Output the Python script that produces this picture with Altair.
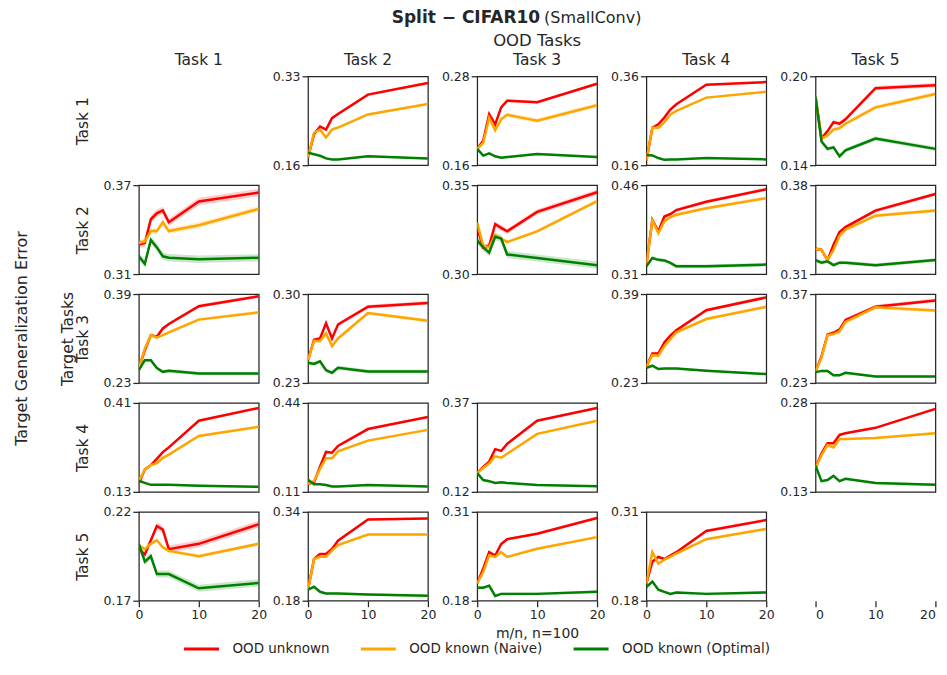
import altair as alt
import pandas as pd

# ---------------- data ----------------
X = [0, 1, 2, 3, 4, 5, 10, 20]
X_TICKS = [0, 10, 20]
SERIES = ["OOD unknown", "OOD known (Naive)", "OOD known (Optimal)"]
COLORS = ["#ff0000", "#ffa500", "#008000"]
TASKS = ["Task 1", "Task 2", "Task 3", "Task 4", "Task 5"]
TITLE_BOLD = "Split − CIFAR10"
TITLE_REST = "(SmallConv)"
SUPER_COL = "OOD Tasks"
SUPER_ROW = "Target Tasks"
SUPER_Y = "Target Generalization Error"
X_TITLE = "m/n, n=100"

# target task 1
u12 = [0.175, 0.219, 0.234, 0.228, 0.250, 0.258, 0.295, 0.317]
k12 = [0.175, 0.222, 0.228, 0.213, 0.228, 0.232, 0.257, 0.277]
o12 = [0.184, 0.181, 0.178, 0.173, 0.171, 0.171, 0.177, 0.173]
u13 = [0.182, 0.193, 0.229, 0.215, 0.238, 0.247, 0.245, 0.270]
k13 = [0.182, 0.190, 0.224, 0.207, 0.222, 0.228, 0.220, 0.241]
o13 = [0.182, 0.173, 0.176, 0.172, 0.170, 0.171, 0.175, 0.171]
u14 = [0.170, 0.244, 0.252, 0.267, 0.285, 0.297, 0.341, 0.347]
k14 = [0.170, 0.244, 0.244, 0.256, 0.274, 0.282, 0.312, 0.325]
o14 = [0.183, 0.182, 0.176, 0.172, 0.173, 0.173, 0.176, 0.173]
u15 = [0.186, 0.158, 0.163, 0.169, 0.168, 0.171, 0.192, 0.194]
k15 = [0.186, 0.158, 0.160, 0.164, 0.165, 0.168, 0.179, 0.188]
o15 = [0.186, 0.156, 0.151, 0.152, 0.146, 0.150, 0.158, 0.151]
# target task 2
u21 = [0.330, 0.331, 0.347, 0.351, 0.353, 0.345, 0.359, 0.365]
k21 = [0.331, 0.332, 0.339, 0.339, 0.345, 0.339, 0.343, 0.354]
o21 = [0.322, 0.317, 0.333, 0.328, 0.322, 0.321, 0.320, 0.321]
u23 = [0.326, 0.315, 0.316, 0.328, 0.326, 0.324, 0.335, 0.346]
k23 = [0.329, 0.316, 0.315, 0.322, 0.320, 0.318, 0.324, 0.341]
o23 = [0.319, 0.315, 0.312, 0.321, 0.320, 0.311, 0.309, 0.305]
u24 = [0.326, 0.401, 0.382, 0.407, 0.411, 0.418, 0.432, 0.453]
k24 = [0.326, 0.401, 0.379, 0.399, 0.406, 0.410, 0.421, 0.438]
o24 = [0.323, 0.337, 0.334, 0.333, 0.329, 0.323, 0.323, 0.326]
u25 = [0.330, 0.329, 0.321, 0.333, 0.343, 0.347, 0.360, 0.373]
k25 = [0.330, 0.329, 0.321, 0.329, 0.340, 0.345, 0.356, 0.360]
o25 = [0.321, 0.319, 0.320, 0.317, 0.319, 0.319, 0.317, 0.321]
# target task 3
u31 = [0.256, 0.289, 0.316, 0.313, 0.328, 0.336, 0.368, 0.386]
k31 = [0.256, 0.292, 0.316, 0.312, 0.316, 0.321, 0.344, 0.357]
o31 = [0.253, 0.271, 0.271, 0.257, 0.250, 0.252, 0.247, 0.247]
u32 = [0.248, 0.264, 0.265, 0.277, 0.265, 0.276, 0.290, 0.293]
k32 = [0.248, 0.263, 0.263, 0.269, 0.259, 0.265, 0.285, 0.279]
o32 = [0.246, 0.245, 0.247, 0.240, 0.238, 0.242, 0.239, 0.239]
u34 = [0.259, 0.283, 0.283, 0.303, 0.315, 0.325, 0.361, 0.384]
k34 = [0.259, 0.280, 0.279, 0.296, 0.309, 0.321, 0.345, 0.367]
o34 = [0.257, 0.261, 0.255, 0.256, 0.256, 0.256, 0.252, 0.246]
u35 = [0.248, 0.272, 0.306, 0.309, 0.314, 0.329, 0.350, 0.360]
k35 = [0.248, 0.270, 0.305, 0.307, 0.311, 0.326, 0.349, 0.344]
o35 = [0.247, 0.249, 0.249, 0.242, 0.242, 0.246, 0.240, 0.240]
# target task 4
u41 = [0.158, 0.200, 0.214, 0.234, 0.255, 0.270, 0.354, 0.394]
k41 = [0.165, 0.200, 0.214, 0.220, 0.237, 0.247, 0.306, 0.335]
o41 = [0.165, 0.158, 0.152, 0.152, 0.152, 0.152, 0.149, 0.146]
u42 = [0.140, 0.145, 0.203, 0.258, 0.255, 0.280, 0.343, 0.388]
k42 = [0.140, 0.150, 0.195, 0.235, 0.235, 0.260, 0.300, 0.340]
o42 = [0.155, 0.138, 0.138, 0.135, 0.130, 0.130, 0.135, 0.130]
u43 = [0.173, 0.190, 0.205, 0.240, 0.235, 0.255, 0.320, 0.356]
k43 = [0.173, 0.187, 0.200, 0.220, 0.216, 0.227, 0.283, 0.320]
o43 = [0.173, 0.153, 0.150, 0.145, 0.147, 0.145, 0.139, 0.136]
u45 = [0.170, 0.195, 0.212, 0.212, 0.226, 0.229, 0.238, 0.270]
k45 = [0.170, 0.192, 0.209, 0.205, 0.219, 0.219, 0.221, 0.229]
o45 = [0.174, 0.148, 0.150, 0.157, 0.148, 0.152, 0.145, 0.142]
# target task 5
u51 = [0.199, 0.196, 0.204, 0.212, 0.210, 0.199, 0.202, 0.213]
k51 = [0.201, 0.199, 0.202, 0.204, 0.200, 0.198, 0.195, 0.202]
o51 = [0.202, 0.192, 0.195, 0.185, 0.185, 0.185, 0.177, 0.180]
u52 = [0.200, 0.255, 0.264, 0.264, 0.273, 0.288, 0.326, 0.328]
k52 = [0.200, 0.255, 0.259, 0.259, 0.270, 0.280, 0.299, 0.299]
o52 = [0.200, 0.205, 0.196, 0.193, 0.193, 0.193, 0.191, 0.189]
u53 = [0.205, 0.227, 0.251, 0.246, 0.263, 0.270, 0.278, 0.301]
k53 = [0.205, 0.222, 0.246, 0.244, 0.251, 0.244, 0.256, 0.273]
o53 = [0.199, 0.199, 0.202, 0.187, 0.190, 0.190, 0.190, 0.193]
u54 = [0.205, 0.237, 0.244, 0.241, 0.246, 0.251, 0.282, 0.298]
k54 = [0.205, 0.251, 0.234, 0.240, 0.244, 0.249, 0.270, 0.285]
o54 = [0.200, 0.208, 0.196, 0.193, 0.190, 0.192, 0.190, 0.192]

# y-axis limits per panel
lim12 = [0.16, 0.33]; lim13 = [0.16, 0.28]; lim14 = [0.16, 0.36]; lim15 = [0.14, 0.20]
lim21 = [0.31, 0.37]; lim23 = [0.30, 0.35]; lim24 = [0.31, 0.46]; lim25 = [0.31, 0.38]
lim31 = [0.23, 0.39]; lim32 = [0.23, 0.30]; lim34 = [0.23, 0.39]; lim35 = [0.23, 0.37]
lim41 = [0.13, 0.41]; lim42 = [0.11, 0.44]; lim43 = [0.12, 0.37]; lim45 = [0.13, 0.28]
lim51 = [0.17, 0.22]; lim52 = [0.18, 0.34]; lim53 = [0.18, 0.31]; lim54 = [0.18, 0.31]

# confidence band half-widths (unknown, naive, optimal)
ci12 = [0.0025, 0.0025, 0.0015]; ci13 = [0.002, 0.003, 0.0015]; ci14 = [0.002, 0.002, 0.002]; ci15 = [0.0015, 0.0015, 0.0015]
ci21 = [0.0025, 0.002, 0.0025]; ci23 = [0.0015, 0.001, 0.002]; ci24 = [0.003, 0.003, 0.003]; ci25 = [0.0015, 0.0015, 0.0015]
ci31 = [0.003, 0.003, 0.003]; ci32 = [0.0015, 0.0015, 0.0015]; ci34 = [0.003, 0.003, 0.002]; ci35 = [0.003, 0.003, 0.002]
ci41 = [0.004, 0.004, 0.003]; ci42 = [0.004, 0.004, 0.003]; ci43 = [0.003, 0.003, 0.002]; ci45 = [0.002, 0.002, 0.002]
ci51 = [0.002, 0.001, 0.002]; ci52 = [0.002, 0.002, 0.002]; ci53 = [0.002, 0.002, 0.002]; ci54 = [0.002, 0.002, 0.002]

PANELS = {
    (1, 2): (u12, k12, o12, lim12, ci12), (1, 3): (u13, k13, o13, lim13, ci13),
    (1, 4): (u14, k14, o14, lim14, ci14), (1, 5): (u15, k15, o15, lim15, ci15),
    (2, 1): (u21, k21, o21, lim21, ci21), (2, 3): (u23, k23, o23, lim23, ci23),
    (2, 4): (u24, k24, o24, lim24, ci24), (2, 5): (u25, k25, o25, lim25, ci25),
    (3, 1): (u31, k31, o31, lim31, ci31), (3, 2): (u32, k32, o32, lim32, ci32),
    (3, 4): (u34, k34, o34, lim34, ci34), (3, 5): (u35, k35, o35, lim35, ci35),
    (4, 1): (u41, k41, o41, lim41, ci41), (4, 2): (u42, k42, o42, lim42, ci42),
    (4, 3): (u43, k43, o43, lim43, ci43), (4, 5): (u45, k45, o45, lim45, ci45),
    (5, 1): (u51, k51, o51, lim51, ci51), (5, 2): (u52, k52, o52, lim52, ci52),
    (5, 3): (u53, k53, o53, lim53, ci53), (5, 4): (u54, k54, o54, lim54, ci54),
}

# ---------------- style ----------------
FONT = "DejaVu Sans"
INK = "#262626"
W, H = 120, 89
COL_SPACING = 49.35
ROW_SPACING = 20

CSCALE = alt.Scale(domain=SERIES, range=COLORS)
XSCALE = alt.Scale(domain=[0, 20], nice=False, zero=False)

# the legend belongs to the bottom-centre panel and is placed below the grid
LEGEND = alt.Legend(
    title=None, orient="none", legendX=-295, legendY=118, direction="horizontal",
    symbolType="stroke", symbolSize=1225, symbolStrokeWidth=3,
    labelFont=FONT, labelFontSize=13.5, labelColor=INK, labelOffset=12,
    columnPadding=24,
)
LEGEND_PANEL = (5, 3)

ONE = pd.DataFrame({"k": [0]})


def x_axis(r, c):
    kw = dict(values=X_TICKS, format="d", labelFlush=(r == c), tickSize=6, labelPadding=2,
              labelFontSize=12.5, domain=False, grid=False, titleFontSize=14,
              titleFontWeight="normal", titlePadding=5, titleColor=INK)
    kw["title"] = X_TITLE if c == 3 else None
    return alt.Axis(**kw)


def row_title_kw(r, c):
    if c != 1:
        return {"title": None}
    if r == 3:
        text = [SUPER_ROW, TASKS[r - 1]]
        tx = -78
    else:
        text = TASKS[r - 1]
        tx = -63
    return dict(title=text, titleAngle=270, titleX=tx, titleY=H / 2, titleBaseline="top",
                titleAlign="center", titleFontSize=15.5, titleLineHeight=15,
                titleFontWeight="normal", titleColor=INK, titleFont=FONT)


def y_axis(r, c, lim):
    kw = dict(values=lim, format=".2f", labelFlush=False, tickSize=6, labelPadding=2,
              labelFontSize=12.5, domain=False, grid=False)
    kw.update(row_title_kw(r, c))
    return alt.Axis(**kw)


def col_title(c, offset):
    return alt.TitleParams(TASKS[c - 1], fontSize=15.5, offset=offset, font=FONT,
                           fontWeight="normal", color=INK, anchor="middle")


def panel_df(key):
    u, k, o, lim, ci = PANELS[key]
    rows = []
    for name, vals, h in zip(SERIES, (u, k, o), ci):
        for xv, yv in zip(X, vals):
            rows.append({"x": xv, "y": yv, "lo": yv - h, "hi": yv + h, "series": name})
    return pd.DataFrame(rows)


# header texts live in the row-2 panel of column 3 (the centre column), drawn above the grid
HDR_SHIFT = H + ROW_SPACING


def header_layers():
    h1 = alt.Chart(ONE).mark_text(align="right", baseline="middle", fontSize=17,
                                  fontWeight="bold", font=FONT, color=INK).encode(
        x=alt.value(W / 2 + 3), y=alt.value(-58 - HDR_SHIFT), text=alt.value(TITLE_BOLD))
    h2 = alt.Chart(ONE).mark_text(align="left", baseline="middle", fontSize=16,
                                  font=FONT, color=INK).encode(
        x=alt.value(W / 2 + 7), y=alt.value(-58 - HDR_SHIFT), text=alt.value(TITLE_REST))
    h3 = alt.Chart(ONE).mark_text(align="center", baseline="middle", fontSize=16.5,
                                  font=FONT, color=INK).encode(
        x=alt.value(W / 2), y=alt.value(-35 - HDR_SHIFT), text=alt.value(SUPER_COL))
    return [h1, h2, h3]


def super_y_layer():
    return alt.Chart(ONE).mark_text(align="center", baseline="middle", fontSize=16, angle=270,
                                    font=FONT, color=INK).encode(
        x=alt.value(-117), y=alt.value(H / 2), text=alt.value(SUPER_Y))


def data_panel(r, c):
    df = panel_df((r, c))
    lim = PANELS[(r, c)][3]
    ysc = alt.Scale(domain=lim, nice=False, zero=False)
    xenc = alt.X("x:Q", scale=XSCALE, axis=x_axis(r, c) if r == 5 else None)
    yax = y_axis(r, c, lim)
    # one translucent band per series, coloured directly (no legend of their own)
    bands = [
        alt.Chart(df).transform_filter(alt.datum.series == name)
        .mark_area(color=col, opacity=0.2, clip=True)
        .encode(x=xenc, y=alt.Y("lo:Q", scale=ysc, axis=yax), y2="hi:Q")
        for name, col in zip(SERIES, COLORS)
    ]
    line = alt.Chart(df).mark_line(strokeWidth=2.5, clip=True).encode(
        x=xenc,
        y=alt.Y("y:Q", scale=ysc, axis=yax),
        color=alt.Color("series:N", scale=CSCALE,
                        legend=LEGEND if (r, c) == LEGEND_PANEL else None),
    )
    layers = bands + [line]
    if (r, c) == (2, 3):
        layers += header_layers()
    if (r, c) == (3, 1):
        layers.append(super_y_layer())
    ch = alt.layer(*layers).properties(width=W, height=H)
    if r == 1:
        ch = ch.properties(title=col_title(c, 2))
    return ch


def empty_panel(r, c):
    df = pd.DataFrame({"x": [0.0], "y": [0.0]})
    xenc = alt.X("x:Q", scale=XSCALE, axis=x_axis(r, c) if r == 5 else None)
    if c == 1:
        kw = dict(labels=False, ticks=False, domain=False, grid=False)
        kw.update(row_title_kw(r, c))
        yenc = alt.Y("y:Q", scale=alt.Scale(domain=[0, 1]), axis=alt.Axis(**kw))
    else:
        yenc = alt.Y("y:Q", scale=alt.Scale(domain=[0, 1]), axis=None)
    ch = alt.Chart(df).mark_point(opacity=0).encode(x=xenc, y=yenc).properties(
        width=W, height=H, view=alt.ViewBackground(stroke="transparent"))
    if r == 1:
        ch = ch.properties(title=col_title(c, 8))
    return ch


panels = []
for r in range(1, 6):
    for c in range(1, 6):
        panels.append(empty_panel(r, c) if r == c else data_panel(r, c))

chart = alt.concat(
    *panels, columns=5, spacing={"row": ROW_SPACING, "column": COL_SPACING}, bounds="flush"
).resolve_legend(
    color="independent"
).properties(
    padding={"left": 5, "top": 0, "right": 2, "bottom": 2}
).configure_view(
    stroke=INK, strokeWidth=1.25
).configure_axis(
    labelFont=FONT, titleFont=FONT, labelColor=INK, tickColor=INK, tickWidth=1.25
).configure_legend(
    labelFont=FONT
)

chart.save("out.html", embed_options={"renderer": "svg", "actions": False})
